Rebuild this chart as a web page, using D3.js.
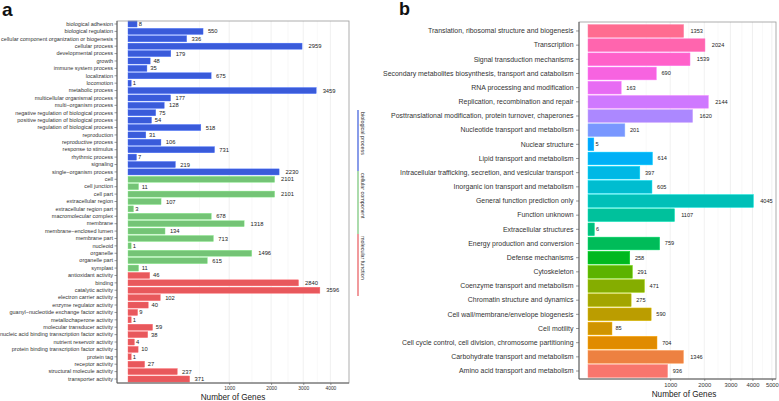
<!DOCTYPE html>
<html><head><meta charset="utf-8">
<script src="https://cdn.jsdelivr.net/npm/d3@7"></script>
<style>body{margin:0;background:#fff}svg{display:block;font-family:"Liberation Sans",Arial,sans-serif}</style>
</head><body><svg id="c" width="779" height="401"></svg>
<script>
// ---------- Panel a data (GO) ----------
const goCategories = ["biological adhesion","biological regulation","cellular component organization or biogenesis","cellular process","developmental process","growth","immune system process","localization","locomotion","metabolic process","multicellular organismal process","multi\u2212organism process","negative regulation of biological process","positive regulation of biological process","regulation of biological process","reproduction","reproductive process","response to stimulus","rhythmic process","signaling","single\u2212organism process",
"cell","cell junction","cell part","extracellular region","extracellular region part","macromolecular complex","membrane","membrane\u2212enclosed lumen","membrane part","nucleoid","organelle","organelle part","symplast",
"antioxidant activity","binding","catalytic activity","electron carrier activity","enzyme regulator activity","guanyl\u2212nucleotide exchange factor activity","metallochaperone activity","molecular transducer activity","nucleic acid binding transcription factor activity","nutrient reservoir activity","protein binding transcription factor activity","protein tag","receptor activity","structural molecule activity","transporter activity"];
const goValues = [8,550,336,2959,179,48,35,675,1,3459,177,128,75,54,518,31,106,731,7,219,2230,
2101,11,2101,107,3,678,1318,134,713,1,1496,615,11,
46,2840,3596,102,40,9,1,59,38,4,10,1,27,237,371];
const goGroups = [].concat(Array(21).fill("biological process"),Array(13).fill("cellular component"),Array(15).fill("molecular function"));
const goGroupNames = ["biological process","cellular component","molecular function"];
const goTicks = [1000,2000,3000,4000];

// ---------- Panel b data (COG) ----------
const cogCategories = ["Translation, ribosomal structure and biogenesis","Transcription","Signal transduction mechanisms","Secondary metabolites biosynthesis, transport and catabolism","RNA processing and modification","Replication, recombination and repair","Posttranslational modification, protein turnover, chaperones","Nucleotide transport and metabolism","Nuclear structure","Lipid transport and metabolism","Intracellular trafficking, secretion, and vesicular transport","Inorganic ion transport and metabolism","General function prediction only","Function unknown","Extracellular structures","Energy production and conversion","Defense mechanisms","Cytoskeleton","Coenzyme transport and metabolism","Chromatin structure and dynamics","Cell wall/membrane/envelope biogenesis","Cell motility","Cell cycle control, cell division, chromosome partitioning","Carbohydrate transport and metabolism","Amino acid transport and metabolism"];
const cogValues = [1353,2024,1539,690,163,2144,1620,201,5,614,397,605,4045,1107,6,759,258,291,471,275,590,85,704,1346,936];
const cogTicks = [1000,2000,3000,4000,5000];

// ggplot-like hue (polar LUV) -> sRGB
function hclLuv(h,c,l){
  const hr=h*Math.PI/180,u=c*Math.cos(hr),v=c*Math.sin(hr);
  const Xn=95.047,Yn=100,Zn=108.883,den=Xn+15*Yn+3*Zn;
  const un=4*Xn/den,vn=9*Yn/den;
  const Y=Yn*Math.pow((l+16)/116,3);
  const up=u/(13*l)+un,vp=v/(13*l)+vn;
  const X=Y*9*up/(4*vp),Z=Y*(12-3*up-20*vp)/(4*vp);
  const x=X/100,y=Y/100,z=Z/100;
  const lin=[3.2404542*x-1.5371385*y-0.4985314*z,-0.9692660*x+1.8760108*y+0.0415560*z,0.0556434*x-0.2040259*y+1.0572252*z];
  const g=lin.map(t=>{t=t<=0.0031308?12.92*t:1.055*Math.pow(t,1/2.4)-0.055;return Math.round(Math.max(0,Math.min(1,t))*255);});
  return d3.rgb(g[0],g[1],g[2]).formatHex();
}

const svg=d3.select("#c");
svg.append("rect").attr("width",779).attr("height",401).attr("fill","#fff");
const txt="#333";
const fmt=d3.format("d");

// ================= Panel a =================
const A={l:117,r:349,t:21,b:383};
const xa=d3.scaleSqrt().domain([0,4770]).range([128,349]);
const ya=d3.scaleBand().domain(goCategories).range([20.3,382.7]).paddingInner(0.18).paddingOuter(0.09);
const groupColor=d3.scaleOrdinal().domain(goGroupNames).range(["#3A5BDA","#74C476","#E8585C"]);
const gA=svg.append("g");
const minorA=[500,1500,2500,3500];
gA.selectAll(".gmin").data(minorA).join("line").attr("x1",d=>xa(d)).attr("x2",d=>xa(d)).attr("y1",A.t).attr("y2",A.b).attr("stroke","#f0f0f0").attr("stroke-width",0.5);
gA.selectAll(".gmaj").data(goTicks).join("line").attr("x1",d=>xa(d)).attr("x2",d=>xa(d)).attr("y1",A.t).attr("y2",A.b).attr("stroke","#e6e6e6").attr("stroke-width",0.6);
gA.selectAll(".bar").data(goCategories).join("rect")
 .attr("x",xa(0)).attr("y",d=>ya(d)).attr("height",ya.bandwidth())
 .attr("width",(d,i)=>xa(goValues[i])-xa(0))
 .attr("fill",(d,i)=>groupColor(goGroups[i]))
 .attr("stroke",(d,i)=>d3.color(groupColor(goGroups[i])).brighter(0.6)).attr("stroke-width",0.4);
gA.selectAll(".val").data(goCategories).join("text")
 .attr("x",(d,i)=>xa(goValues[i])).attr("y",d=>ya(d)+ya.bandwidth()/2).attr("dy","0.35em")
 .attr("font-size",5.8).attr("fill","#222").text((d,i)=>goValues[i])
 .each(function(){const w=this.getComputedTextLength();d3.select(this).attr("dx",w*0.5);});
gA.append("rect").attr("x",A.l).attr("y",A.t).attr("width",A.r-A.l).attr("height",A.b-A.t).attr("fill","none").attr("stroke","#999").attr("stroke-width",0.8);
gA.append("line").attr("x1",A.l).attr("x2",A.l).attr("y1",A.t).attr("y2",A.b).attr("stroke","#555").attr("stroke-width",0.9);
gA.append("line").attr("x1",A.l).attr("x2",A.r).attr("y1",A.b).attr("y2",A.b).attr("stroke","#555").attr("stroke-width",0.9);
const yAxA=gA.append("g").attr("transform",`translate(${A.l},0)`).call(d3.axisLeft(ya).tickSize(2.5).tickPadding(1.5));
yAxA.select(".domain").remove();
yAxA.selectAll("line").attr("stroke","#555").attr("stroke-width",0.6);
yAxA.selectAll("text").attr("font-size",5.5).attr("fill",txt).attr("font-family","Liberation Sans, Arial, sans-serif");
const xAxA=gA.append("g").attr("transform",`translate(0,${A.b})`).call(d3.axisBottom(xa).tickValues(goTicks).tickFormat(fmt).tickSize(2).tickPadding(2));
xAxA.select(".domain").remove();
xAxA.selectAll("line").attr("stroke","#555").attr("stroke-width",0.6);
xAxA.selectAll("text").attr("font-size",4.9).attr("fill",txt).attr("font-family","Liberation Sans, Arial, sans-serif");
gA.append("text").attr("x",233).attr("y",400).attr("text-anchor","middle").attr("font-size",8.2).attr("fill","#222").text("Number of Genes");
const strip=[{g:"biological process",y1:110,y2:171},{g:"cellular component",y1:171,y2:234},{g:"molecular function",y1:234,y2:296}];
strip.forEach(s=>{
  gA.append("line").attr("x1",358).attr("x2",358).attr("y1",s.y1).attr("y2",s.y2).attr("stroke",groupColor(s.g)).attr("stroke-width",1.2);
  gA.append("text").attr("transform",`translate(360.5,${s.y1+2}) rotate(90)`).attr("font-size",5.4).attr("fill",txt).text(s.g);
});
svg.append("text").attr("x",2).attr("y",16).attr("font-size",19).attr("font-weight","bold").attr("fill","#111").text("a");

// ================= Panel b =================
const B={l:579,r:776,t:22,b:379};
const xb=d3.scaleSqrt().domain([0,5228]).range([588,776]);
const yb=d3.scaleBand().domain(cogCategories).range([23.9,378.1]).paddingInner(0.1).paddingOuter(0.05);
const nC=cogCategories.length;
const cogColor=i=>hclLuv(15+360*(nC-1-i)/nC,100,65);
const gB=svg.append("g");
const minorB=[500,1500,2500,3500,4500];
gB.selectAll(".gmin").data(minorB).join("line").attr("x1",d=>xb(d)).attr("x2",d=>xb(d)).attr("y1",B.t).attr("y2",B.b).attr("stroke","#f0f0f0").attr("stroke-width",0.5);
gB.selectAll(".gmaj").data(cogTicks).join("line").attr("x1",d=>xb(d)).attr("x2",d=>xb(d)).attr("y1",B.t).attr("y2",B.b).attr("stroke","#e6e6e6").attr("stroke-width",0.6);
gB.selectAll(".bar").data(cogCategories).join("rect")
 .attr("x",xb(0)).attr("y",d=>yb(d)).attr("height",yb.bandwidth())
 .attr("width",(d,i)=>xb(cogValues[i])-xb(0))
 .attr("fill",(d,i)=>cogColor(i))
 .attr("stroke",(d,i)=>d3.color(cogColor(i)).brighter(0.5)).attr("stroke-width",0.5);
gB.selectAll(".val").data(cogCategories).join("text")
 .attr("x",(d,i)=>xb(cogValues[i])).attr("y",d=>yb(d)+yb.bandwidth()/2).attr("dy","0.35em")
 .attr("font-size",5.6).attr("fill","#222").text((d,i)=>cogValues[i])
 .each(function(){const w=this.getComputedTextLength();d3.select(this).attr("dx",w*0.55);});
gB.append("rect").attr("x",B.l).attr("y",B.t).attr("width",B.r-B.l).attr("height",B.b-B.t).attr("fill","none").attr("stroke","#999").attr("stroke-width",0.8);
gB.append("line").attr("x1",B.l).attr("x2",B.l).attr("y1",B.t).attr("y2",B.b).attr("stroke","#555").attr("stroke-width",0.9);
gB.append("line").attr("x1",B.l).attr("x2",B.r).attr("y1",B.b).attr("y2",B.b).attr("stroke","#555").attr("stroke-width",0.9);
const yAxB=gB.append("g").attr("transform",`translate(${B.l},0)`).call(d3.axisLeft(yb).tickSize(3).tickPadding(2.5));
yAxB.select(".domain").remove();
yAxB.selectAll("line").attr("stroke","#555").attr("stroke-width",0.6);
yAxB.selectAll("text").attr("font-size",6.95).attr("fill",txt).attr("font-family","Liberation Sans, Arial, sans-serif");
const xAxB=gB.append("g").attr("transform",`translate(0,${B.b})`).call(d3.axisBottom(xb).tickValues(cogTicks).tickFormat(fmt).tickSize(2).tickPadding(1.5));
xAxB.select(".domain").remove();
xAxB.selectAll("line").attr("stroke","#555").attr("stroke-width",0.6);
xAxB.selectAll("text").attr("font-size",5.8).attr("fill",txt).attr("font-family","Liberation Sans, Arial, sans-serif");
gB.append("text").attr("x",684).attr("y",397).attr("text-anchor","middle").attr("font-size",8.2).attr("fill","#222").text("Number of Genes");
svg.append("text").attr("x",399).attr("y",15).attr("font-size",18).attr("font-weight","bold").attr("fill","#111").text("b");
</script></body></html>
